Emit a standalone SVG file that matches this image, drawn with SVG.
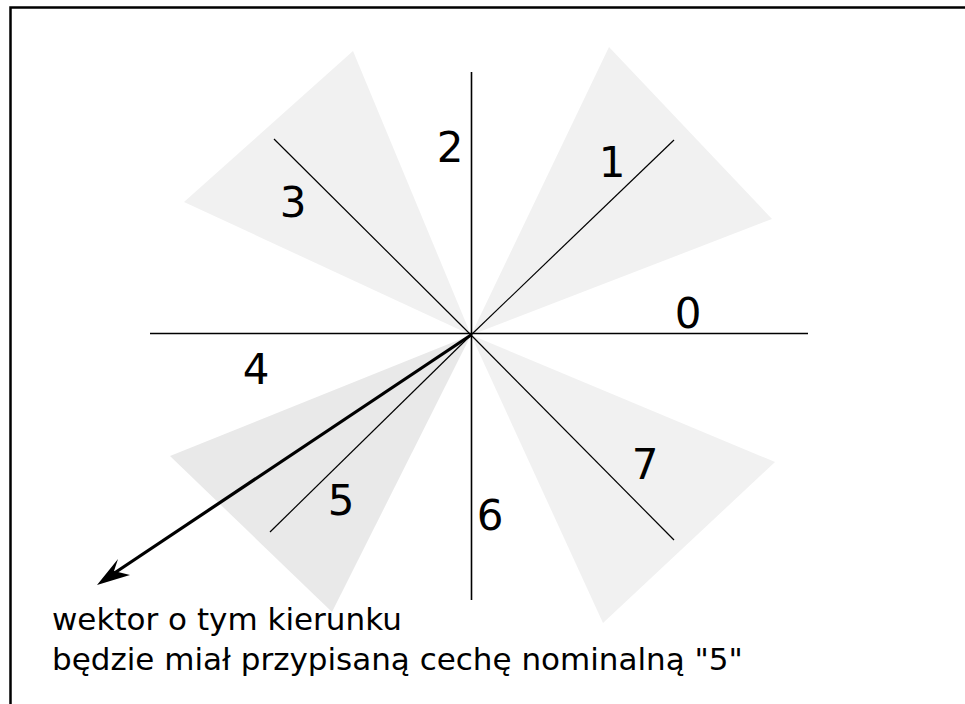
<svg xmlns="http://www.w3.org/2000/svg" width="965" height="704" viewBox="0 0 965 704">
<style>
.w{fill:#f1f1f1;stroke:none}
.w5{fill:#e9e9e9;stroke:none}
.ax{stroke:#000;stroke-width:1.6;fill:none}
.dg{stroke:#000;stroke-width:1.2;fill:none}
.lb{font-family:"DejaVu Sans",sans-serif;font-size:42px;fill:#000;text-anchor:middle}
.tx{font-family:"DejaVu Sans",sans-serif;font-size:31px;fill:#000}
</style>
<rect x="0" y="0" width="965" height="704" fill="#fff"/>
<rect x="10.5" y="7.5" width="1000" height="760" fill="none" stroke="#000" stroke-width="2.5"/>
<g id="wedges">
<polygon id="wedge1" class="w" points="471,335 609,47 772,219"/>
<polygon id="wedge3" class="w" points="471,335 353,51 184,202"/>
<polygon id="wedge5" class="w5" points="471,335 170,456 332,612"/>
<polygon id="wedge7" class="w" points="471,335 775,462 603,623"/>
</g>
<g id="connectors">
<line class="ax" x1="150" y1="333.5" x2="808" y2="333.5"/>
<line class="ax" x1="471.5" y1="72" x2="471.5" y2="600"/>
<line class="dg" x1="471" y1="335" x2="674" y2="140"/>
<line class="dg" x1="471" y1="335" x2="274" y2="139"/>
<line class="dg" x1="471" y1="335" x2="270" y2="532"/>
<line class="dg" x1="471" y1="335" x2="674" y2="540"/>
<g id="arrow">
<line x1="471" y1="335" x2="110" y2="576" stroke="#000" stroke-width="3.2"/>
<path d="M97,585 L118,559 L114,571 L130,575 Z" fill="#000"/>
</g>
</g>
<g id="n0"><text class="lb" x="688" y="328">0</text></g>
<g id="n1"><text class="lb" x="612" y="177">1</text></g>
<g id="n2"><text class="lb" x="450" y="162">2</text></g>
<g id="n3"><text class="lb" x="293" y="217">3</text></g>
<g id="n4"><text class="lb" x="256" y="384">4</text></g>
<g id="n5"><text class="lb" x="341" y="515">5</text></g>
<g id="n6"><text class="lb" x="490" y="530">6</text></g>
<g id="n7"><text class="lb" x="645" y="479">7</text></g>
<g id="caption">
<text class="tx" x="52" y="630">wektor o tym kierunku</text>
<text class="tx" x="52" y="670">będzie miał przypisaną cechę nominalną "5"</text>
</g>
</svg>
